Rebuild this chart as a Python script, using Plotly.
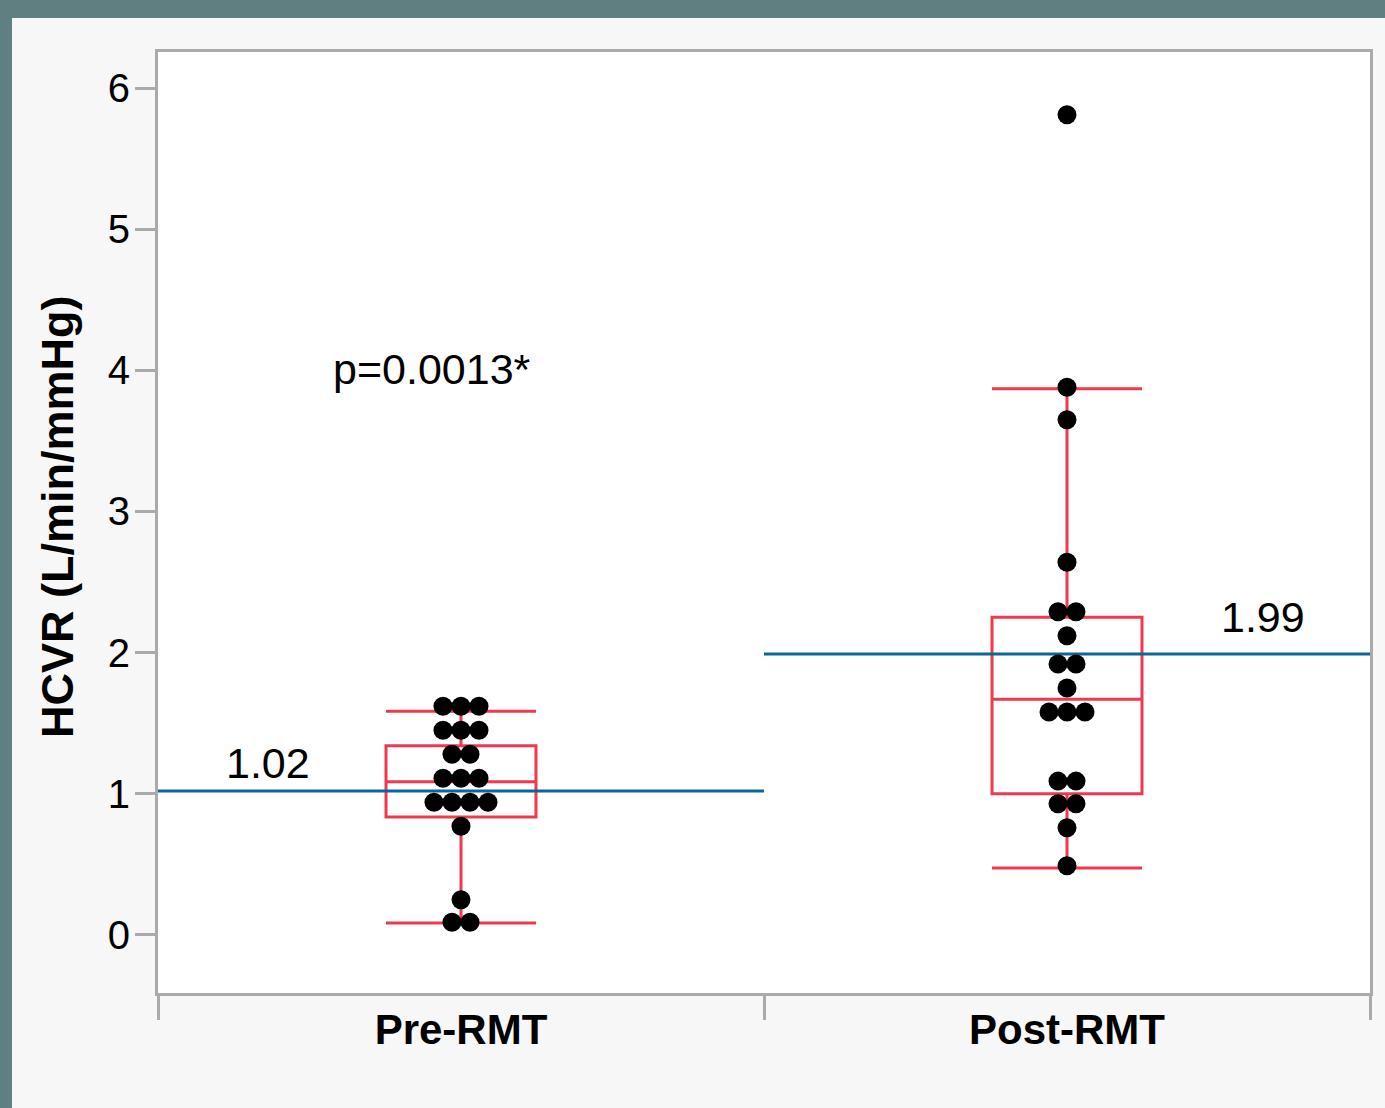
import plotly.graph_objects as go
from collections import Counter

categories = ["Pre-RMT", "Post-RMT"]
pre_values = [1.62, 1.62, 1.62, 1.45, 1.45, 1.45, 1.28, 1.28, 1.11, 1.11, 1.11,
              0.94, 0.94, 0.94, 0.94, 0.77, 0.25, 0.09, 0.09]
post_values = [5.81, 3.88, 3.65, 2.64, 2.29, 2.29, 2.12, 1.92, 1.92, 1.75,
               1.58, 1.58, 1.58, 1.09, 1.09, 0.93, 0.93, 0.76, 0.49]
means = [1.02, 1.99]
q1s = [0.835, 1.0]
medians = [1.085, 1.67]
q3s = [1.34, 2.25]
lower_whiskers = [0.085, 0.475]
upper_whiskers = [1.585, 3.87]
p_text = "p=0.0013*"
y_ticks = [0, 1, 2, 3, 4, 5, 6]

RED = "#f0384f"
BLUE = "#0b6797"
GRAY = "#aaaaaa"
FONT = "Liberation Sans, Arial, Helvetica, sans-serif"
DOT_STEP = 0.0297


def dot_offsets(vals):
    counts = Counter(vals)
    seen = Counter()
    xs = []
    for v in vals:
        n = counts[v]
        k = seen[v]
        seen[v] += 1
        xs.append((k - (n - 1) / 2) * DOT_STEP)
    return xs


fig = go.Figure()

for i, vals in enumerate([pre_values, post_values]):
    # mean line
    fig.add_trace(go.Scatter(x=[i - 0.5, i + 0.5], y=[means[i], means[i]], mode="lines",
                             line=dict(color=BLUE, width=3), showlegend=False, hoverinfo="skip"))
    # box
    fig.add_trace(go.Box(x=[i], q1=[q1s[i]], median=[medians[i]], q3=[q3s[i]],
                         lowerfence=[lower_whiskers[i]], upperfence=[upper_whiskers[i]],
                         width=0.2475, whiskerwidth=1, boxpoints=False,
                         line=dict(color=RED, width=3), fillcolor="rgba(0,0,0,0)",
                         showlegend=False))
    # dots
    offs = dot_offsets(vals)
    fig.add_trace(go.Scatter(x=[i + o for o in offs], y=vals, mode="markers",
                             marker=dict(color="black", size=19, line=dict(width=0)),
                             showlegend=False))

# annotations
fig.add_annotation(x=-0.048, y=4.01, text=p_text, showarrow=False,
                   font=dict(family=FONT, size=43, color="black"))
fig.add_annotation(x=-0.3185, y=means[0] + 0.2, text=f"{means[0]:.2f}", showarrow=False,
                   font=dict(family=FONT, size=43, color="black"))
fig.add_annotation(x=1.323, y=means[1] + 0.26, text=f"{means[1]:.2f}", showarrow=False,
                   font=dict(family=FONT, size=43, color="black"))
fig.add_annotation(xref="paper", yref="paper", x=(57 - 158) / 1212, y=(993 - 517) / 941,
                   xanchor="center", yanchor="middle",
                   text="<b>HCVR (L/min/mmHg)</b>", textangle=-90, showarrow=False,
                   font=dict(family=FONT, size=45, color="black"))

# frame bands
TEAL = "#5f7f80"
fig.add_shape(type="rect", xref="paper", yref="paper", x0=-0.1304, x1=1.0124,
              y0=(993 - 18) / 941, y1=(993 - 0) / 941, fillcolor=TEAL, line_width=0, layer="below")
fig.add_shape(type="rect", xref="paper", yref="paper", x0=-0.1304, x1=(12 - 158) / 1212,
              y0=(993 - 1108) / 941, y1=(993 - 0) / 941, fillcolor=TEAL, line_width=0, layer="below")

fig.update_layout(
    width=1385, height=1108,
    margin=dict(l=158, r=15, t=52, b=115),
    paper_bgcolor="#f7f7f7", plot_bgcolor="white",
    font=dict(family=FONT, color="black"),
    xaxis=dict(range=[-0.5, 1.5], tickvals=[0, 1], ticktext=[f"<b>{c}</b>" for c in categories],
               ticks="", showgrid=False, zeroline=False, showline=True, linecolor=GRAY,
               linewidth=3, mirror=True, tickfont=dict(size=42, family=FONT),
               ticklabelstandoff=-2,
               minor=dict(tick0=-0.5, dtick=1, ticks="outside", ticklen=24, tickwidth=3,
                          tickcolor=GRAY, showgrid=False)),
    yaxis=dict(range=[-0.411, 6.255], tickvals=y_ticks, ticks="outside", ticklen=20,
               tickwidth=3, tickcolor=GRAY, showgrid=False, zeroline=False, showline=True,
               linecolor=GRAY, linewidth=3, mirror=True, tickfont=dict(size=40, family=FONT),
               ticklabelstandoff=-3),
)

fig.write_html("out.html")
